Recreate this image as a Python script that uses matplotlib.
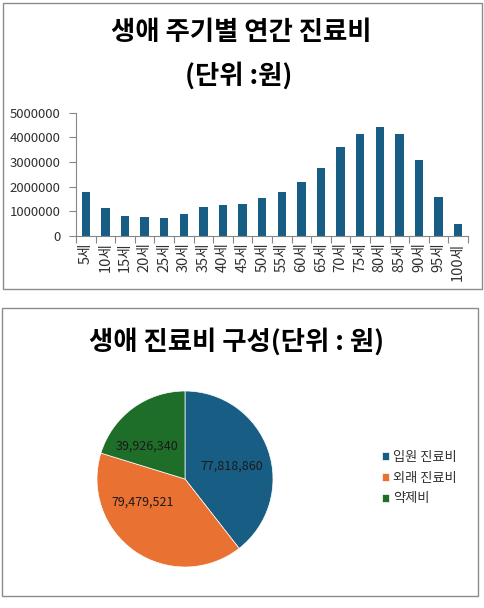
import matplotlib
matplotlib.use("Agg")
import matplotlib.pyplot as plt
from matplotlib.patches import Rectangle
import numpy as np

plt.rcParams['font.family'] = ['Noto Sans CJK KR', 'DejaVu Sans']

# ---- data ----
ages = ["5세", "10세", "15세", "20세", "25세", "30세", "35세", "40세", "45세", "50세",
        "55세", "60세", "65세", "70세", "75세", "80세", "85세", "90세", "95세", "100세"]
annual_cost = [1770000, 1120000, 800000, 760000, 720000, 880000, 1160000, 1250000, 1290000, 1530000,
               1770000, 2180000, 2750000, 3600000, 4130000, 4420000, 4130000, 3080000, 1570000, 470000]
y_ticks = [0, 1000000, 2000000, 3000000, 4000000, 5000000]

pie_labels = ["입원 진료비", "외래 진료비", "약제비"]
pie_values = [77818860, 79479521, 39926340]

BAR_COLOR = "#185D83"
PIE_COLORS = ["#185D83", "#E97132", "#1E6E2A"]
AXIS_GRAY = "#868686"

W, H = 484, 608
fig = plt.figure(figsize=(W / 100, H / 100), dpi=100)


def fx(px):
    return px / W


def fy(py):
    return 1 - py / H


# panel frames
for (x0, y0, x1, y1) in [(2.5, 2.5, 481.5, 289), (1.5, 308, 478, 596)]:
    fig.patches.append(Rectangle((fx(x0), fy(y1)), fx(x1) - fx(x0), fy(y0) - fy(y1),
                                 transform=fig.transFigure, fill=False,
                                 edgecolor="#8C8C8C", linewidth=1.0))

# ---- bar chart ----
fig.text(fx(241), fy(32), "생애 주기별 연간 진료비", ha="center", va="center",
         fontsize=19, fontweight="bold", color="black")
fig.text(fx(239), fy(76), "(단위 :원)", ha="center", va="center",
         fontsize=19, fontweight="bold", color="black")

ax = fig.add_axes([fx(76), fy(235.7), fx(468) - fx(76), fy(112.7) - fy(235.7)])
x = np.arange(len(ages))
ax.bar(x, annual_cost, width=0.42, color=BAR_COLOR)
ax.set_xlim(-0.5, len(ages) - 0.5)
ax.set_ylim(0, 5000000)
ax.set_yticks(y_ticks)
ax.set_yticklabels([str(v) for v in y_ticks])
ax.set_xticks(x)
ax.set_xticklabels(ages, rotation=90)
ax.set_xticks(np.arange(len(ages) + 1) - 0.5, minor=True)
ax.tick_params(axis="x", which="major", length=0, pad=5, labelsize=10.5, colors="#303030")
ax.tick_params(axis="x", which="minor", length=5, color=AXIS_GRAY, width=0.8, direction="out")
ax.tick_params(axis="y", length=5, color=AXIS_GRAY, width=0.8, pad=6, labelsize=9.5, labelcolor="#303030")
for s in ["top", "right"]:
    ax.spines[s].set_visible(False)
for s in ["left", "bottom"]:
    ax.spines[s].set_color(AXIS_GRAY)
    ax.spines[s].set_linewidth(0.8)

# ---- pie chart ----
fig.text(fx(237), fy(342), "생애 진료비 구성(단위 : 원)", ha="center", va="center",
         fontsize=19, fontweight="bold", color="black")

cx, cy, r = 185, 479, 88
pax = fig.add_axes([fx(cx - r), fy(cy + r), fx(2 * r), (2 * r) / H])
wedges, _ = pax.pie(pie_values, colors=PIE_COLORS, startangle=90, counterclock=False,
                    radius=1.0, wedgeprops=dict(linewidth=0.5, edgecolor="white"))
pax.set_xlim(-1, 1)
pax.set_ylim(-1, 1)
pax.set_aspect("equal")
pax.axis("off")

# data label placement (polar: radius fraction, angle deg)
label_pos = [(0.55, 15), (0.55, 209), (0.575, 139)]
for val, (rr, ang) in zip(pie_values, label_pos):
    t = np.deg2rad(ang)
    pax.text(rr * np.cos(t), rr * np.sin(t), f"{val:,}", ha="center", va="center",
             fontsize=9, color="#1a1a1a")

leg = fig.legend(wedges, pie_labels, loc="center left",
                 bbox_to_anchor=(fx(381.5), fy(478)), frameon=False,
                 borderpad=0, borderaxespad=0, handlelength=0.6, handleheight=0.6,
                 handletextpad=0.25, labelspacing=0.6, fontsize=9.5)
for t in leg.get_texts():
    t.set_color("#303030")

fig.savefig("out.png", dpi=100)
